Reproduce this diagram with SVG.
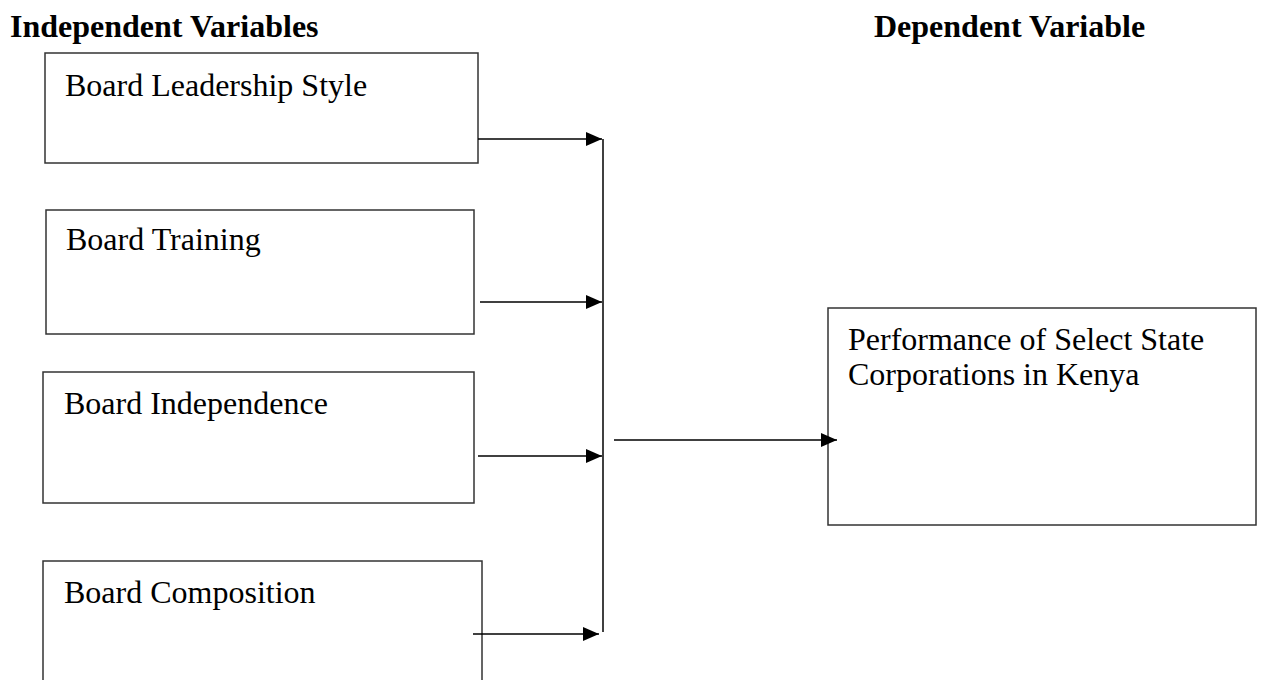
<svg xmlns="http://www.w3.org/2000/svg" width="1264" height="680" viewBox="0 0 1264 680">
<defs>
<style>
.box{fill:#fff;stroke:#333;stroke-width:1.5}
.t{font-family:"Liberation Serif","Times New Roman",serif;font-size:32px;fill:#000}
.h{font-family:"Liberation Serif","Times New Roman",serif;font-size:32px;font-weight:bold;fill:#000}
.c{stroke:#000;stroke-width:1.5;fill:none}
</style>
<marker id="ah" viewBox="0 0 16 14" refX="16" refY="7" markerWidth="16" markerHeight="14" markerUnits="userSpaceOnUse" orient="auto">
<path d="M0,0 L16,7 L0,14 Z" fill="#000"/>
</marker>
</defs>
<rect width="1264" height="680" fill="#fff"/>
<text class="h" x="10" y="37">Independent Variables</text>
<text class="h" x="874" y="37">Dependent Variable</text>
<g id="n1"><rect class="box" x="45" y="53" width="433" height="110"/><text class="t" x="65" y="96">Board Leadership Style</text></g>
<g id="n2"><rect class="box" x="46" y="210" width="428" height="124"/><text class="t" x="66" y="250">Board Training</text></g>
<g id="n3"><rect class="box" x="43" y="372" width="431" height="131"/><text class="t" x="64" y="414">Board Independence</text></g>
<g id="n4"><rect class="box" x="43" y="561" width="439" height="140"/><text class="t" x="64" y="603">Board Composition</text></g>
<g id="n5"><rect class="box" x="828" y="308" width="428" height="217"/><text class="t" x="848" y="350">Performance of Select State</text><text class="t" x="848" y="385">Corporations in Kenya</text></g>
<g id="connectors">
<line class="c" x1="478" y1="139" x2="602" y2="139" marker-end="url(#ah)"/>
<line class="c" x1="480" y1="302" x2="602" y2="302" marker-end="url(#ah)"/>
<line class="c" x1="478" y1="456" x2="602" y2="456" marker-end="url(#ah)"/>
<line class="c" x1="473" y1="634" x2="599" y2="634" marker-end="url(#ah)"/>
<line class="c" x1="603" y1="139" x2="603" y2="632"/>
<line class="c" x1="614" y1="440" x2="837" y2="440" marker-end="url(#ah)"/>
</g>
</svg>
